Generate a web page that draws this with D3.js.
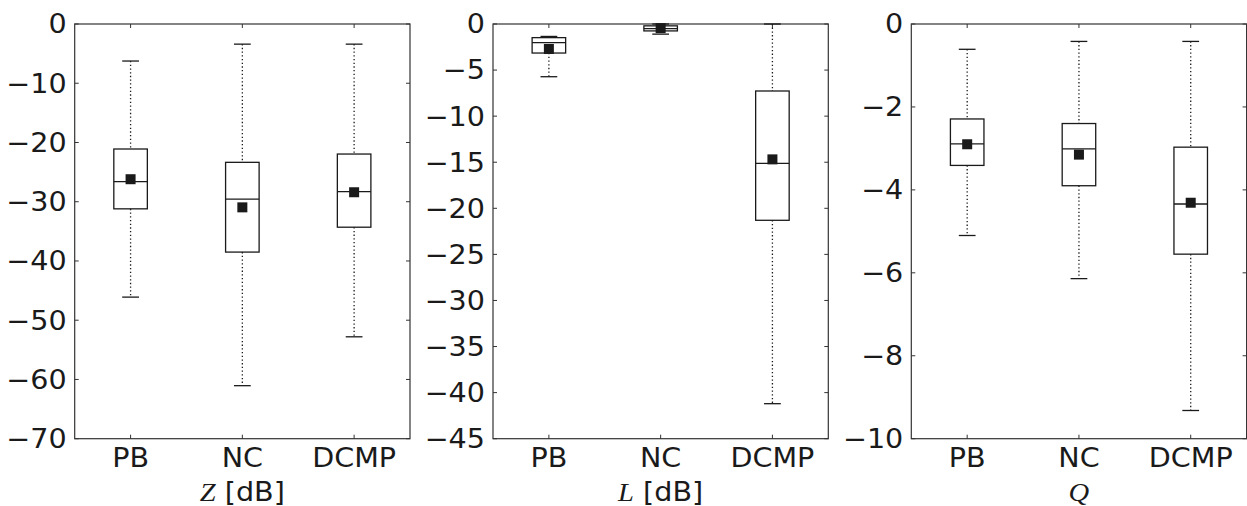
<!DOCTYPE html>
<html>
<head>
<meta charset="utf-8">
<script src="https://cdn.jsdelivr.net/npm/d3@7"></script>
<style>
  body { margin: 0; background: #fff; }
  svg { display: block; }
  text { font-family: "DejaVu Sans", sans-serif; fill: #1a1a1a; }
</style>
</head>
<body>
<svg id="chart" width="1247" height="506"></svg>
<script>
// ---- data ----
const categories = ["PB", "NC", "DCMP"];

// Panel Z [dB]
const zWhiskHigh = [-6.25, -3.4, -3.4];
const zQ3        = [-21.1, -23.35, -21.95];
const zMedian    = [-26.6, -29.55, -28.3];
const zQ1        = [-31.2, -38.5, -34.3];
const zWhiskLow  = [-46.1, -61.05, -52.8];
const zMean      = [-26.2, -30.95, -28.4];
const zTicks     = [0, -10, -20, -30, -40, -50, -60, -70];

// Panel L [dB]
const lWhiskHigh = [-1.35, 0, 0];
const lQ3        = [-1.48, -0.2, -7.27];
const lMedian    = [-2.03, -0.5, -15.12];
const lQ1        = [-3.15, -0.75, -21.3];
const lWhiskLow  = [-5.72, -1.1, -41.2];
const lMean      = [-2.71, -0.45, -14.69];
const lTicks     = [0, -5, -10, -15, -20, -25, -30, -35, -40, -45];

// Panel Q
const qWhiskHigh = [-0.61, -0.42, -0.42];
const qQ3        = [-2.29, -2.40, -2.97];
const qMedian    = [-2.89, -3.01, -4.34];
const qQ1        = [-3.41, -3.90, -5.55];
const qWhiskLow  = [-5.10, -6.14, -9.32];
const qMean      = [-2.90, -3.15, -4.31];
const qTicks     = [0, -2, -4, -6, -8, -10];

const panels = [
  { label: ["Z", " [dB]"], domain: [-70, 0], ticks: zTicks,
    hi: zWhiskHigh, q3: zQ3, med: zMedian, q1: zQ1, lo: zWhiskLow, mean: zMean },
  { label: ["L", " [dB]"], domain: [-45, 0], ticks: lTicks,
    hi: lWhiskHigh, q3: lQ3, med: lMedian, q1: lQ1, lo: lWhiskLow, mean: lMean },
  { label: ["Q", ""], domain: [-10, 0], ticks: qTicks,
    hi: qWhiskHigh, q3: qQ3, med: qMedian, q1: qQ1, lo: qWhiskLow, mean: qMean }
];

// ---- layout ----
const svg = d3.select("#chart");
const lefts = [74.7, 493, 911.3];
const pw = 335.3;
const plotTop = 24, plotBottom = 438.7;
const fmt = v => (v < 0 ? "\u2212" + Math.abs(v) : String(v));
const ink = "#1a1a1a";
const sx = 1.1;

function addText(g, x, y, anchor, str, dy) {
  return g.append("text")
    .attr("transform", `translate(${x},${y}) scale(${sx},1)`)
    .attr("dy", dy || 0)
    .attr("text-anchor", anchor).attr("font-size", 26).text(str);
}

panels.forEach((p, i) => {
  const x0 = lefts[i];
  const g = svg.append("g");
  const x = d3.scaleLinear().domain([0.5, 3.5]).range([x0, x0 + pw]);
  const y = d3.scaleLinear().domain(p.domain).range([plotBottom, plotTop]);
  const bw = (x(1.3) - x(1.0));       // box width (0.3 units)
  const cw = bw / 2;                  // cap width

  // frame
  g.append("rect").attr("x", x0).attr("y", plotTop).attr("width", pw).attr("height", plotBottom - plotTop)
    .attr("fill", "none").attr("stroke", "#333").attr("stroke-width", 1.2);

  // y ticks (inside, both sides)
  p.ticks.forEach(t => {
    const yy = y(t);
    g.append("line").attr("x1", x0).attr("x2", x0 + 4).attr("y1", yy).attr("y2", yy)
      .attr("stroke", "#333").attr("stroke-width", 1);
    g.append("line").attr("x1", x0 + pw - 4).attr("x2", x0 + pw).attr("y1", yy).attr("y2", yy)
      .attr("stroke", "#333").attr("stroke-width", 1);
    addText(g, x0 - 8, yy, "end", fmt(t), "0.36em");
  });

  categories.forEach((c, k) => {
    const cx = x(k + 1);
    // x ticks top & bottom
    g.append("line").attr("x1", cx).attr("x2", cx).attr("y1", plotTop).attr("y2", plotTop + 4)
      .attr("stroke", "#333").attr("stroke-width", 1);
    g.append("line").attr("x1", cx).attr("x2", cx).attr("y1", plotBottom - 4).attr("y2", plotBottom)
      .attr("stroke", "#333").attr("stroke-width", 1);
    addText(g, cx, 467, "middle", c);

    // whiskers (dotted)
    g.append("line").attr("x1", cx).attr("x2", cx).attr("y1", y(p.hi[k])).attr("y2", y(p.q3[k]))
      .attr("stroke", ink).attr("stroke-width", 1.3).attr("stroke-dasharray", "1.3,2.4");
    g.append("line").attr("x1", cx).attr("x2", cx).attr("y1", y(p.q1[k])).attr("y2", y(p.lo[k]))
      .attr("stroke", ink).attr("stroke-width", 1.3).attr("stroke-dasharray", "1.3,2.4");
    // caps
    [p.hi[k], p.lo[k]].forEach(v => {
      g.append("line").attr("x1", cx - cw / 2).attr("x2", cx + cw / 2)
        .attr("y1", y(v)).attr("y2", y(v)).attr("stroke", ink).attr("stroke-width", 1.3);
    });
    // box
    g.append("rect").attr("x", cx - bw / 2).attr("y", y(p.q3[k]))
      .attr("width", bw).attr("height", y(p.q1[k]) - y(p.q3[k]))
      .attr("fill", "none").attr("stroke", ink).attr("stroke-width", 1.3);
    // median
    g.append("line").attr("x1", cx - bw / 2).attr("x2", cx + bw / 2)
      .attr("y1", y(p.med[k])).attr("y2", y(p.med[k])).attr("stroke", ink).attr("stroke-width", 1.3);
    // mean marker
    g.append("rect").attr("x", cx - 5).attr("y", y(p.mean[k]) - 5)
      .attr("width", 10).attr("height", 10).attr("fill", ink);
  });

  // axis label
  const lab = g.append("text")
    .attr("transform", `translate(${x0 + pw / 2},501) scale(${sx},1)`)
    .attr("text-anchor", "middle").attr("font-size", 26);
  lab.append("tspan").attr("font-family", "'Liberation Serif', serif")
    .attr("font-style", "italic").text(p.label[0]);
  if (p.label[1]) lab.append("tspan").text(p.label[1]);
});
</script>
</body>
</html>
